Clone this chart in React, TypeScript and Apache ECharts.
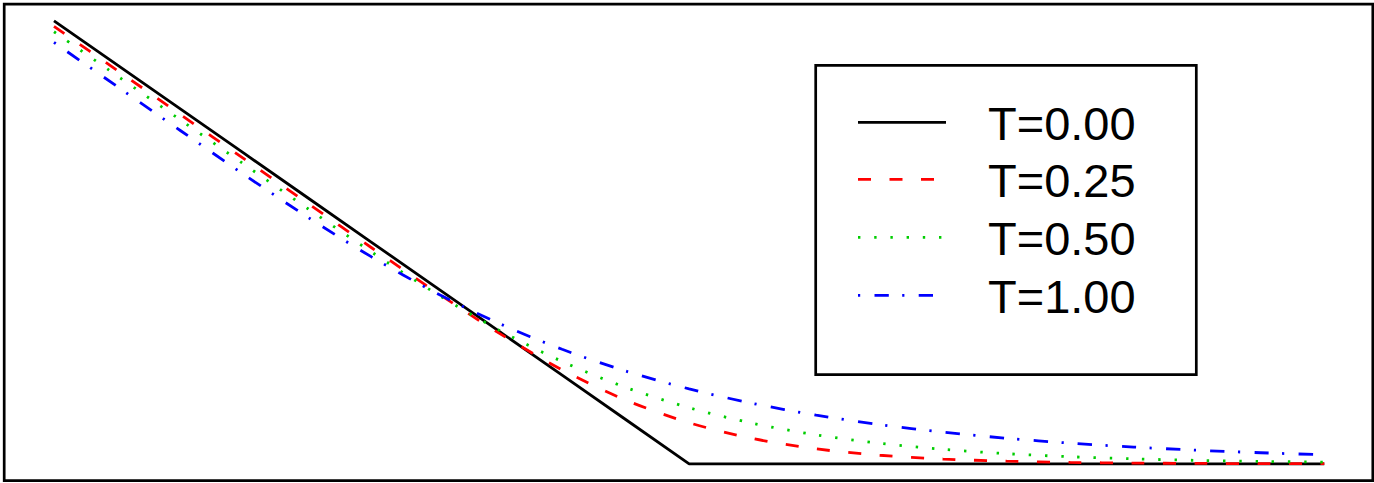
import React, { useEffect, useRef } from "react";
import * as echarts from "echarts";

// Asset price grid (x) and option values (y) for each time-to-maturity T
const S = [0, 0.1, 0.2, 0.3, 0.4, 0.5, 0.6, 0.7, 0.8, 0.9, 1.0, 1.1, 1.2, 1.3, 1.4, 1.5, 1.6, 1.7, 1.8, 1.9, 2.0];
const T000 = [1, 0.9, 0.8, 0.7, 0.6, 0.5, 0.4, 0.3, 0.2, 0.1, 0, 0, 0, 0, 0, 0, 0, 0, 0, 0, 0];
const T025 = [0.98758, 0.88758, 0.78758, 0.68758, 0.58759, 0.48775, 0.38924, 0.29556, 0.21223, 0.14403, 0.09277, 0.05706, 0.03378, 0.01935, 0.0108, 0.00592, 0.0032, 0.00171, 0.00089, 0.00045, 0.00022];
const T050 = [0.97531, 0.87531, 0.77531, 0.67534, 0.57572, 0.47808, 0.38569, 0.30239, 0.231, 0.17256, 0.12659, 0.0915, 0.06539, 0.04635, 0.03265, 0.02289, 0.01602, 0.01117, 0.00779, 0.00545, 0.00381];
const T100 = [0.95123, 0.85123, 0.75128, 0.65216, 0.55632, 0.46705, 0.387, 0.31744, 0.25849, 0.20944, 0.16916, 0.13637, 0.10989, 0.08855, 0.07141, 0.05768, 0.04664, 0.03781, 0.0307, 0.025, 0.02038];
const LABELS = ["T=0.00", "T=0.25", "T=0.50", "T=1.00"];

const COLORS = ["#000000", "#ff0000", "#00cd00", "#0000ff"];
const DASHES: (number[] | "solid")[] = ["solid", [13, 18.5], [2.4, 13.8], [2.2, 14.3, 14.3, 13.4]];

export default function App() {
  const ref = useRef<HTMLDivElement>(null);
  useEffect(() => {
    if (!ref.current) return;
    const chart = echarts.init(ref.current, null, { renderer: "svg" });
    const seriesData = [T000, T025, T050, T100];
    const series = seriesData.map((vals, i) => ({
      name: LABELS[i],
      type: "line",
      data: S.map((s, j) => [s, vals[j]]),
      symbol: "none",
      smooth: i === 0 ? false : 0.3,
      lineStyle: { color: COLORS[i], width: 2.8, type: DASHES[i] },
      z: 2 + i,
    }));

    const legendX1 = 858;
    const legendX2 = 946;
    const rowY = [122.3, 179.3, 237.3, 295.3];
    const legendEls: any[] = [
      {
        type: "rect",
        shape: { x: 815.7, y: 65.3, width: 380.6, height: 309.4 },
        style: { fill: "#ffffff", stroke: "#000000", lineWidth: 2.7 },
        z: 10,
      },
    ];
    rowY.forEach((y, i) => {
      legendEls.push({
        type: "line",
        shape: { x1: legendX1, y1: y, x2: legendX2, y2: y },
        style: {
          stroke: COLORS[i],
          lineWidth: 2.7,
          lineDash: DASHES[i] === "solid" ? null : DASHES[i],
        },
        z: 11,
      });
      legendEls.push({
        type: "text",
        x: 988,
        y: y + 1.2,
        style: {
          text: LABELS[i],
          fill: "#000000",
          font: '47px "Liberation Sans", Arial, sans-serif',
          textAlign: "left",
          textVerticalAlign: "middle",
        },
        z: 11,
      });
    });

    chart.setOption({
      animation: false,
      backgroundColor: "#ffffff",
      grid: {
        show: true,
        left: 4.2,
        right: 1.2,
        top: 4.2,
        bottom: 2.3,
        borderColor: "#000000",
        borderWidth: 2.7,
        containLabel: false,
      },
      xAxis: {
        type: "value",
        min: -0.0784,
        max: 2.0764,
        axisLine: { show: false },
        axisTick: { show: false },
        axisLabel: { show: false },
        splitLine: { show: false },
      },
      yAxis: {
        type: "value",
        min: -0.0381,
        max: 1.0375,
        axisLine: { show: false },
        axisTick: { show: false },
        axisLabel: { show: false },
        splitLine: { show: false },
      },
      series,
      graphic: { elements: legendEls },
    });
    return () => chart.dispose();
  }, []);
  return (
    <div
      ref={ref}
      style={{ position: "absolute", left: 0, top: 0, width: 1374, height: 483 }}
    />
  );
}
